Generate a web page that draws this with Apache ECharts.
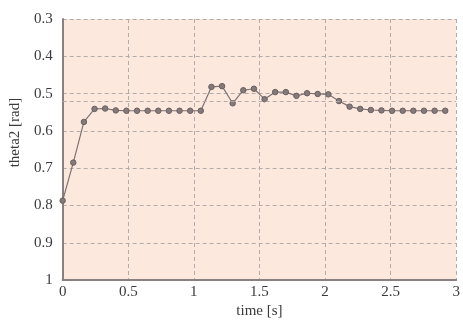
<!DOCTYPE html>
<html>
<head>
<meta charset="utf-8">
<script src="https://cdn.jsdelivr.net/npm/echarts@6/dist/echarts.min.js"></script>
<style>
html,body{margin:0;padding:0;background:#fff}
#Chart{width:463px;height:324px}
</style>
</head>
<body>
<div id="Chart"></div>
<script>
// 时间 [s]
var timeData=[0,0.081,0.162,0.243,0.324,0.405,0.486,0.567,0.648,0.729,
    0.81,0.891,0.972,1.053,1.134,1.215,1.296,1.377,1.458,1.539,
    1.62,1.701,1.782,1.863,1.944,2.025,2.106,2.187,2.268,2.349,
    2.43,2.511,2.592,2.673,2.754,2.835,2.916]
// theta2 [rad]
var thetaData=[0.787,0.685,0.576,0.541,0.540,0.545,0.546,0.546,0.546,0.546,
    0.546,0.546,0.546,0.546,0.482,0.480,0.526,0.491,0.487,0.515,
    0.496,0.496,0.506,0.499,0.501,0.502,0.520,0.535,0.541,0.544,
    0.545,0.546,0.546,0.546,0.546,0.546,0.546]
var refLine=[0.52]

var fontName='"Liberation Serif", "DejaVu Serif", serif'

function $each(arr,fn){
    for(var i=0;i<arr.length;i++) fn(i,arr[i])
}

//数据整理
function dataBind(){
    var data=[]
    $each(timeData,function(i,t){
        data.push([t,thetaData[i]])
    })
    drawChar(data)
}

//图表
function drawChar(data){
    var myChart = echarts.init(document.getElementById('Chart'));
    var dashed={color:'#b3aaaa',type:[4,3],width:1}
    var option = {
        animation:false,
        grid:{
            left:62,right:6,top:19,bottom:36,
            show:true,
            backgroundColor:'#fde8de',
            borderWidth:0
        },
        xAxis:{
            type:'value',
            min:0,max:3,interval:0.5,
            name:'time [s]',
            nameLocation:'middle',
            nameGap:16,
            nameTextStyle:{fontFamily:fontName,fontSize:15,color:'#3a3a3a'},
            axisLine:{lineStyle:{color:'#8a8080',width:2}},
            axisTick:{show:false},
            axisLabel:{fontFamily:fontName,fontSize:15,color:'#3a3a3a',margin:4},
            splitLine:{show:true,lineStyle:dashed}
        },
        yAxis:{
            type:'value',
            inverse:true,
            min:0.3,max:1,interval:0.1,
            name:'theta2 [rad]',
            nameLocation:'middle',
            nameGap:31,
            nameTextStyle:{fontFamily:fontName,fontSize:15,color:'#3a3a3a',padding:[0,0,0,34]},
            axisLine:{lineStyle:{color:'#8a8080',width:2}},
            axisTick:{show:false},
            axisLabel:{fontFamily:fontName,fontSize:15,color:'#3a3a3a',margin:10},
            splitLine:{show:true,lineStyle:dashed}
        },
        series:[{
            type:'line',
            data:data,
            symbol:'circle',
            symbolSize:5.5,
            lineStyle:{color:'#7d7272',width:1.2},
            itemStyle:{color:'#857a7a',borderColor:'#6a6060',borderWidth:1},
            markLine:{
                silent:true,
                symbol:'none',
                label:{show:false},
                lineStyle:dashed,
                data:[{yAxis:refLine[0]}]
            }
        }]
    };
    myChart.setOption(option);
}

dataBind()
</script>
</body>
</html>
